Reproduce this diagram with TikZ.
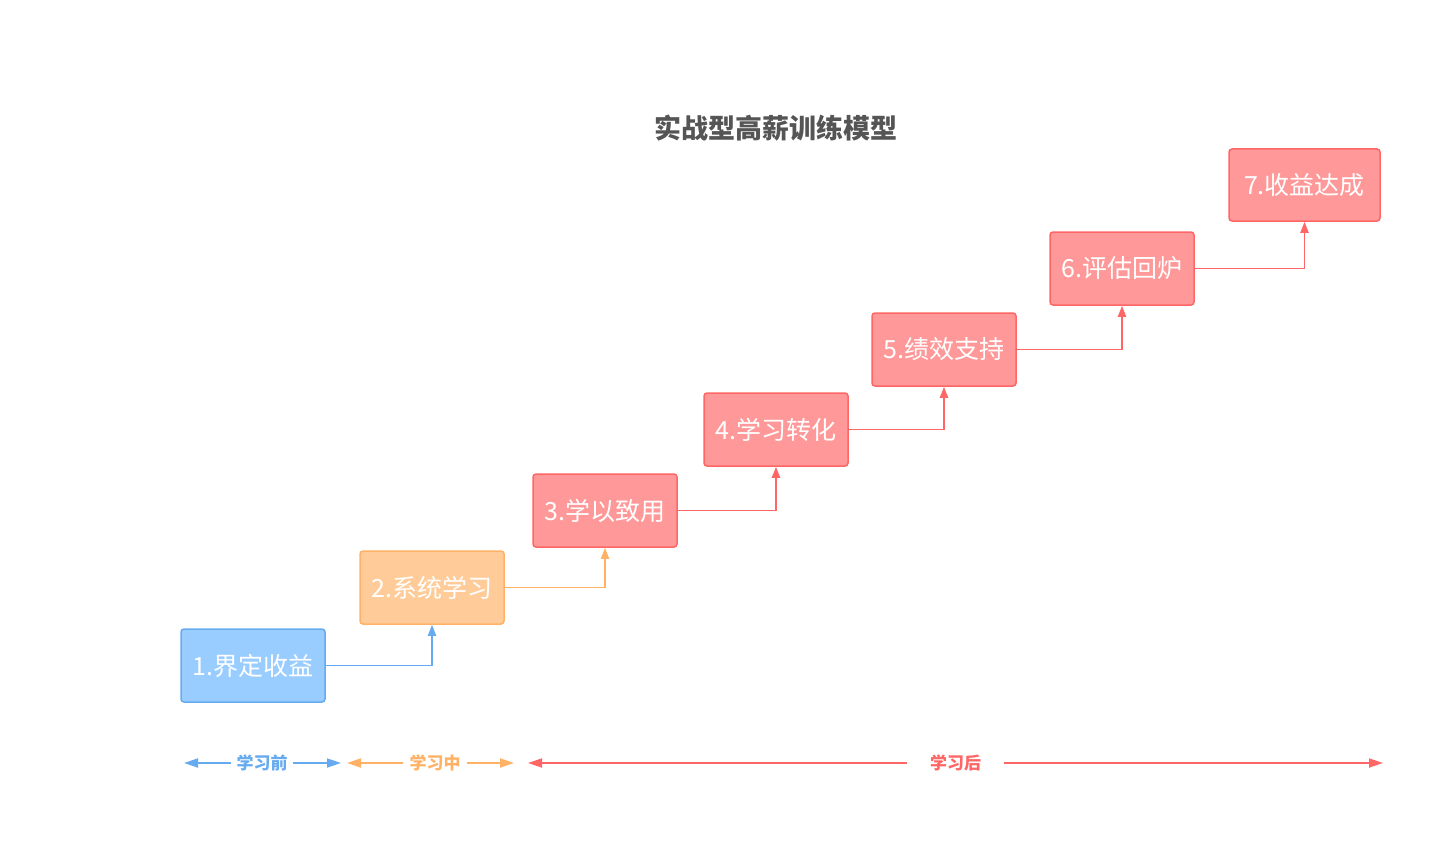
\documentclass[tikz,border=0pt]{standalone}
\usepackage{fontspec}
\setmainfont{Noto Sans CJK SC}
\usetikzlibrary{arrows.meta}
\definecolor{bluefill}{HTML}{99CCFF}
\definecolor{blueline}{HTML}{66AAF0}
\definecolor{orangefill}{HTML}{FFCC99}
\definecolor{orangeline}{HTML}{FFB266}
\definecolor{redfill}{HTML}{FF9999}
\definecolor{redline}{HTML}{FF6666}
\definecolor{titlegray}{HTML}{555555}
\tikzset{
  stage/.style={draw, line width=1.5pt, rounded corners=3pt, minimum width=144pt, minimum height=73pt, align=center, text=white, font=\fontsize{25}{30}\selectfont},
  bluestage/.style={stage, fill=bluefill, draw=blueline},
  orangestage/.style={stage, fill=orangefill, draw=orangeline},
  redstage/.style={stage, fill=redfill, draw=redline},
  phase/.style={font=\fontsize{17}{20}\selectfont\bfseries, inner ysep=2pt},
  steparrow/.style={-{Triangle[length=11pt, width=8pt]}, line width=1.8pt},
  phasearrow/.style={-{Triangle[length=14pt, width=9pt]}, line width=1.8pt}
}
\begin{document}
\begin{tikzpicture}[x=1pt, y=-1pt]
  \useasboundingbox (0,0) rectangle (1442,845);

  % Title
  \node[font=\fontsize{27}{32}\selectfont\bfseries, text=titlegray] (title) at (776,128) {实战型高薪训练模型};

  % Stages, one step up each
  \node[bluestage] (s1) at (253,665.5) {1.界定收益};
  \node[orangestage] (s2) at (432,587.5) {2.系统学习};
  \node[redstage] (s3) at (605,510.5) {3.学以致用};
  \node[redstage] (s4) at (776,429.5) {4.学习转化};
  \node[redstage] (s5) at (944,349.5) {5.绩效支持};
  \node[redstage] (s6) at (1122,268.5) {6.评估回炉};
  \node[redstage, minimum width=151pt, minimum height=72pt] (s7) at (1304.5,185) {7.收益达成};

  % Stair connectors
  \draw[steparrow, blueline] (s1.east) -| (s2.south);
  \draw[steparrow, orangeline] (s2.east) -| (s3.south);
  \draw[steparrow, redline] (s3.east) -| (s4.south);
  \draw[steparrow, redline] (s4.east) -| (s5.south);
  \draw[steparrow, redline] (s5.east) -| (s6.south);
  \draw[steparrow, redline] (s6.east) -| (s7.south);

  % Phase spans along the bottom
  \node[phase, text=blueline, inner xsep=5pt] (pre) at (262,763) {学习前};
  \node[phase, text=orangeline, inner xsep=6pt] (mid) at (435,763) {学习中};
  \node[phase, text=redline, inner xsep=23pt] (post) at (955.5,763) {学习后};
  \coordinate (preL) at (184,763);
  \coordinate (preR) at (341,763);
  \coordinate (midL) at (347,763);
  \coordinate (midR) at (514,763);
  \coordinate (postL) at (528,763);
  \coordinate (postR) at (1383,763);
  \draw[phasearrow, blueline] (pre.west) -- (preL);
  \draw[phasearrow, blueline] (pre.east) -- (preR);
  \draw[phasearrow, orangeline] (mid.west) -- (midL);
  \draw[phasearrow, orangeline] (mid.east) -- (midR);
  \draw[phasearrow, redline] (post.west) -- (postL);
  \draw[phasearrow, redline] (post.east) -- (postR);
\end{tikzpicture}
\end{document}
